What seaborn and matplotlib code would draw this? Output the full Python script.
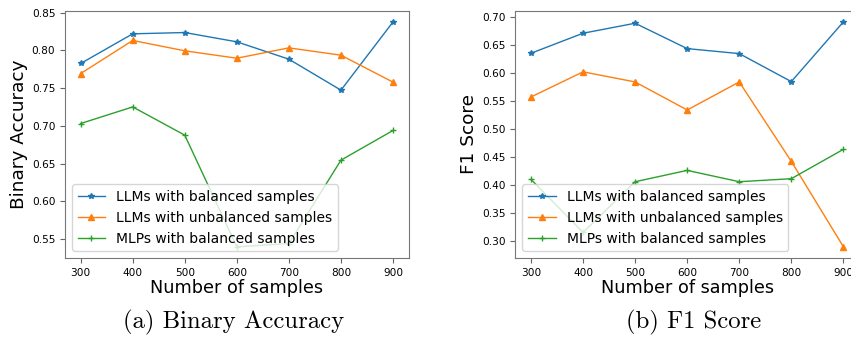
import matplotlib
matplotlib.use("Agg")
import matplotlib.pyplot as plt
import pandas as pd
import seaborn as sns

# number of samples on the x axis
samples = [300, 400, 500, 600, 700, 800, 900]

# (a) binary accuracy
acc_llm_bal = [0.7825, 0.8218, 0.8235, 0.8112, 0.7882, 0.7472, 0.8376]
acc_llm_unbal = [0.7692, 0.8130, 0.7993, 0.7895, 0.8032, 0.7935, 0.7578]
acc_mlp_bal = [0.7030, 0.7250, 0.6876, 0.5398, 0.5440, 0.6545, 0.6938]

# (b) F1 score
f1_llm_bal = [0.6346, 0.6703, 0.6881, 0.6429, 0.6340, 0.5841, 0.6905]
f1_llm_unbal = [0.5567, 0.6015, 0.5835, 0.5335, 0.5835, 0.4420, 0.2898]
f1_mlp_bal = [0.4099, 0.3153, 0.4057, 0.4259, 0.4057, 0.4111, 0.4634]

labels = ["LLMs with balanced samples", "LLMs with unbalanced samples",
          "MLPs with balanced samples"]
colors = ["#1f77b4", "#ff7f0e", "#2ca02c"]
markers = ["*", "^", "+"]


def draw(ax, series, ylabel):
    for vals, lab, c, m in zip(series, labels, colors, markers):
        df = pd.DataFrame({"n": samples, "v": vals})
        sns.lineplot(data=df, x="n", y="v", ax=ax, color=c, marker=m,
                     markersize=4, mec=c, mew=1.0, linewidth=1.0, label=lab)
    ax.set_xlabel("Number of samples", fontsize=12.7, labelpad=1)
    ax.set_ylabel(ylabel, fontsize=13.3, labelpad=3)
    ax.tick_params(labelsize=7.6, color="#666666", length=3.5)
    for s in ax.spines.values():
        s.set_color("#777777")
    ax.set_xticks(samples)
    ax.legend(loc="lower left", fontsize=10)


fig = plt.figure(figsize=(8.51, 3.37), dpi=100)
ax1 = fig.add_axes([0.0764, 0.2344, 0.4038, 0.734])
ax2 = fig.add_axes([0.6056, 0.2344, 0.4038, 0.734])

draw(ax1, [acc_llm_bal, acc_llm_unbal, acc_mlp_bal], "Binary Accuracy")
draw(ax2, [f1_llm_bal, f1_llm_unbal, f1_mlp_bal], "F1 Score")

fig.text(0.275, 0.043, "(a) Binary Accuracy", family="cmr10", fontsize=17.8,
         ha="center", va="center")
fig.text(0.815, 0.043, "(b) F1 Score", family="cmr10", fontsize=17.8,
         ha="center", va="center")

fig.savefig("out.png", dpi=100)
